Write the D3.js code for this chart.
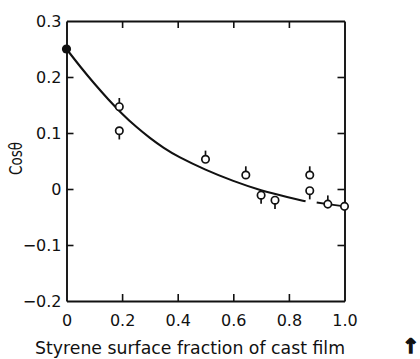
<!DOCTYPE html>
<html>
<head>
<meta charset="utf-8">
<script src="https://cdn.jsdelivr.net/npm/d3@7"></script>
<style>
  html, body { margin: 0; padding: 0; background: #fff; }
  svg { display: block; }
  text { font-family: "DejaVu Sans", sans-serif; fill: #111; }
</style>
</head>
<body>
<svg id="chart" width="420" height="359"></svg>
<script>
// Contact angle data: cos(theta) vs styrene surface fraction
const xTicks = [0, 0.2, 0.4, 0.6, 0.8, 1.0];
const xTickLabels = ["0", "0.2", "0.4", "0.6", "0.8", "1.0"];
const yTicks = [0.3, 0.2, 0.1, 0, -0.1, -0.2];
const yTickLabels = ["0.3", "0.2", "0.1", "0", "\u22120.1", "\u22120.2"];

// Filled reference point (pure polymer)
const refX = [0];
const refY = [0.25];

// Measured points (open circles) and the side of each error stub
const ptX = [0.19, 0.19, 0.50, 0.645, 0.70, 0.75, 0.875, 0.875, 0.94, 1.0];
const ptY = [0.147, 0.104, 0.053, 0.025, -0.011, -0.020, 0.025, -0.003, -0.027, -0.031];
const ptStub = ["up", "down", "up", "up", "down", "down", "up", "down", "up", "none"];

// Smooth trend curve
const curveX = [0, 0.05, 0.1, 0.15, 0.2, 0.25, 0.3, 0.35, 0.4, 0.5, 0.6, 0.7, 0.8, 0.86];
const curveY = [0.25, 0.218, 0.188, 0.160, 0.134, 0.111, 0.091, 0.073, 0.058, 0.034, 0.014, -0.003, -0.015, -0.022];
// Trailing segment to the end of the range
const tailX = [0.90, 0.94, 1.0];
const tailY = [-0.024, -0.027, -0.031];

const svg = d3.select("#chart");
const x = d3.scaleLinear().domain([0, 1]).range([66.5, 344.5]);
const y = d3.scaleLinear().domain([-0.2, 0.3]).range([301, 21]);

const axisColor = "#111";

// Bottom axis
const axBottom = svg.append("g")
  .attr("transform", `translate(0,${y(-0.2)})`)
  .call(d3.axisBottom(x).tickValues(xTicks)
    .tickFormat((d, i) => xTickLabels[i])
    .tickSizeInner(-7).tickSizeOuter(0).tickPadding(14));
// Top axis (ticks only)
const axTop = svg.append("g")
  .attr("transform", `translate(0,${y(0.3)})`)
  .call(d3.axisTop(x).tickValues(xTicks).tickFormat("")
    .tickSizeInner(-7).tickSizeOuter(0));
// Left axis
const axLeft = svg.append("g")
  .attr("transform", `translate(${x(0)},0)`)
  .call(d3.axisLeft(y).tickValues(yTicks)
    .tickFormat((d, i) => yTickLabels[i])
    .tickSizeInner(-7).tickSizeOuter(0).tickPadding(5));
// Right axis (ticks only)
const axRight = svg.append("g")
  .attr("transform", `translate(${x(1)},0)`)
  .call(d3.axisRight(y).tickValues(yTicks).tickFormat("")
    .tickSizeInner(-7).tickSizeOuter(0));

[axBottom, axTop, axLeft, axRight].forEach(g => {
  g.select(".domain").attr("stroke", axisColor).attr("stroke-width", 1.9);
  g.selectAll(".tick line").attr("stroke", axisColor).attr("stroke-width", 1.6);
  g.selectAll(".tick text").style("font-size", "16px").attr("fill", "#111");
});
// No tick marks at the frame corners
axBottom.selectAll(".tick").filter(d => d === 0 || d === 1).select("line").remove();
axTop.selectAll(".tick").filter(d => d === 0 || d === 1).select("line").remove();
axLeft.selectAll(".tick").filter(d => d === 0.3 || d === -0.2).select("line").remove();
axRight.selectAll(".tick").filter(d => d === 0.3 || d === -0.2).select("line").remove();

// Trend curve
const line = d3.line().x(d => x(d[0])).y(d => y(d[1])).curve(d3.curveBasis);
svg.append("path")
  .datum(curveX.map((v, i) => [v, curveY[i]]))
  .attr("d", line)
  .attr("fill", "none").attr("stroke", "#111").attr("stroke-width", 2.1);
svg.append("path")
  .datum(tailX.map((v, i) => [v, tailY[i]]))
  .attr("d", d3.line().x(d => x(d[0])).y(d => y(d[1])))
  .attr("fill", "none").attr("stroke", "#111").attr("stroke-width", 1.9);

// Error stubs
const r = 3.7, stubLen = 5;
const pts = ptX.map((v, i) => ({ x: v, y: ptY[i], s: ptStub[i] }));
svg.append("g").selectAll("line")
  .data(pts.filter(p => p.s !== "none"))
  .join("line")
  .attr("x1", d => x(d.x)).attr("x2", d => x(d.x))
  .attr("y1", d => d.s === "up" ? y(d.y) - r : y(d.y) + r)
  .attr("y2", d => d.s === "up" ? y(d.y) - r - stubLen : y(d.y) + r + stubLen)
  .attr("stroke", "#111").attr("stroke-width", 1.7);

// Open circles
svg.append("g").selectAll("circle")
  .data(pts)
  .join("circle")
  .attr("cx", d => x(d.x)).attr("cy", d => y(d.y)).attr("r", r)
  .attr("fill", "#fff").attr("stroke", "#111").attr("stroke-width", 1.7);

// Filled reference point
svg.append("g").selectAll("circle")
  .data(refX.map((v, i) => [v, refY[i]]))
  .join("circle")
  .attr("cx", d => x(d[0])).attr("cy", d => y(d[1])).attr("r", 4.6)
  .attr("fill", "#111");

// Axis titles
svg.append("text")
  .attr("x", 35).attr("y", 354)
  .attr("textLength", 310).attr("lengthAdjust", "spacingAndGlyphs")
  .style("font-size", "17px")
  .text("Styrene surface fraction of cast film");
svg.append("text")
  .attr("transform", "translate(22,175) rotate(-90)")
  .attr("textLength", 33).attr("lengthAdjust", "spacingAndGlyphs")
  .style("font-size", "17px")
  .text("Cos\u03b8");
svg.append("text")
  .attr("x", 411).attr("y", 353)
  .attr("text-anchor", "middle")
  .style("font-size", "20px").style("font-weight", "bold")
  .attr("stroke", "#111").attr("stroke-width", 1.4)
  .text("\u2191");
</script>
</body>
</html>
